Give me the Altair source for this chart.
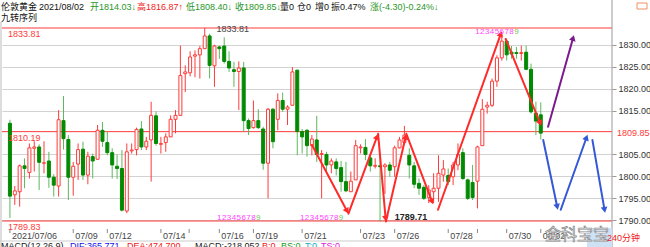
import math
import altair as alt
import pandas as pd

# ---------------- data (240-minute candles, 伦敦黄金) ----------------
opens = [1812.1, 1795.8, 1796.5, 1802.4, 1800.9, 1806.4, 1806.7, 1803.0, 1803.5, 1799.8,
         1797.8, 1812.7, 1808.4, 1799.8, 1802.8, 1806.2, 1800.3, 1804.5, 1803.9, 1810.5,
         1807.7, 1805.4, 1802.3, 1801.8, 1792.1, 1805.8, 1806.1, 1810.8, 1806.7, 1808.3,
         1813.8, 1807.3, 1807.7, 1809.0, 1813.0, 1813.9, 1823.4, 1823.6, 1827.4, 1827.7,
         1829.1, 1832.0, 1825.2, 1829.5, 1829.7, 1826.2, 1824.3, 1823.9, 1824.7, 1812.7,
         1811.1, 1812.7, 1810.8, 1803.0, 1815.3, 1813.0, 1817.3, 1815.3, 1816.2, 1824.2,
         1810.2, 1810.5, 1807.0, 1808.3, 1805.0, 1805.0, 1802.6, 1803.3, 1802.0, 1798.8,
         1796.5, 1799.2, 1806.5, 1806.6, 1804.2, 1802.3, 1802.4, 1802.2, 1802.6, 1802.2,
         1806.5, 1807.7, 1804.8, 1802.4, 1798.4, 1797.5, 1795.2, 1796.5, 1797.3, 1800.3,
         1800.2, 1799.9, 1802.6, 1805.4, 1799.2, 1798.6, 1798.9, 1807.0, 1815.8, 1816.2,
         1821.7, 1827.0, 1830.8, 1828.3, 1828.2, 1828.0, 1828.3, 1824.4, 1814.4, 1814.03]
highs = [1812.9, 1797.8, 1802.7, 1804.1, 1807.5, 1808.0, 1807.3, 1808.0, 1805.6, 1800.5,
         1815.1, 1818.3, 1809.4, 1803.3, 1807.5, 1807.9, 1805.6, 1805.2, 1811.7, 1812.4,
         1810.2, 1806.4, 1805.0, 1806.0, 1807.5, 1807.5, 1811.1, 1812.6, 1809.0, 1817.0,
         1814.8, 1809.0, 1809.8, 1813.9, 1815.1, 1829.8, 1825.3, 1828.5, 1828.7, 1829.7,
         1833.81, 1832.5, 1830.0, 1829.8, 1831.7, 1828.5, 1826.1, 1826.2, 1826.1, 1813.2,
         1817.3, 1815.3, 1811.3, 1815.6, 1815.6, 1818.9, 1819.1, 1816.2, 1824.9, 1824.3,
         1810.8, 1810.8, 1809.4, 1813.8, 1806.0, 1805.6, 1804.1, 1804.1, 1803.5, 1803.3,
         1801.1, 1808.3, 1807.3, 1808.5, 1805.2, 1804.1, 1805.0, 1803.0, 1803.3, 1807.0,
         1809.0, 1811.5, 1806.4, 1803.3, 1799.5, 1798.0, 1798.0, 1800.7, 1804.8, 1803.7,
         1801.8, 1803.3, 1807.5, 1806.4, 1799.5, 1802.6, 1807.0, 1817.6, 1817.0, 1822.3,
         1827.6, 1832.9, 1831.4, 1829.7, 1829.5, 1829.8, 1829.8, 1825.7, 1817.0, 1816.87]
lows = [1790.5, 1793.5, 1793.1, 1797.3, 1799.5, 1801.1, 1796.9, 1800.7, 1797.4, 1795.4,
        1795.4, 1806.1, 1794.6, 1795.6, 1799.2, 1799.2, 1798.2, 1799.5, 1803.9, 1806.7,
        1804.8, 1799.5, 1799.4, 1792.0, 1791.6, 1805.2, 1804.8, 1806.0, 1806.0, 1798.8,
        1807.0, 1805.2, 1805.6, 1809.0, 1809.8, 1813.9, 1819.2, 1822.8, 1822.6, 1822.3,
        1829.1, 1822.3, 1820.4, 1826.8, 1825.7, 1823.8, 1820.4, 1815.1, 1810.2, 1809.4,
        1810.9, 1810.8, 1801.5, 1795.0, 1806.4, 1810.5, 1814.7, 1811.7, 1816.2, 1804.8,
        1805.2, 1804.5, 1804.8, 1803.3, 1795.0, 1800.7, 1800.7, 1800.2, 1796.5, 1796.4,
        1796.5, 1799.2, 1805.2, 1803.7, 1801.1, 1801.8, 1789.71, 1796.0, 1799.9, 1799.9,
        1806.4, 1807.7, 1799.5, 1797.3, 1795.8, 1794.6, 1793.9, 1793.9, 1794.2, 1798.8,
        1798.0, 1798.0, 1801.4, 1799.2, 1794.6, 1794.6, 1792.7, 1807.0, 1814.3, 1815.8,
        1820.4, 1826.4, 1826.4, 1826.8, 1826.8, 1826.4, 1824.2, 1814.3, 1809.4, 1808.40]
closes = [1795.5, 1796.7, 1802.4, 1801.8, 1806.5, 1806.7, 1803.2, 1803.1, 1799.8, 1798.0,
          1812.9, 1808.6, 1799.8, 1802.3, 1806.1, 1800.3, 1804.6, 1803.5, 1810.5, 1808.0,
          1805.4, 1802.6, 1801.8, 1792.3, 1805.6, 1806.0, 1810.7, 1806.7, 1808.0, 1813.9,
          1807.5, 1807.5, 1809.0, 1813.0, 1813.9, 1823.0, 1823.8, 1827.2, 1827.7, 1829.1,
          1832.0, 1825.3, 1829.7, 1829.1, 1826.2, 1824.7, 1823.9, 1824.7, 1812.7, 1810.9,
          1812.7, 1811.1, 1803.0, 1815.3, 1807.9, 1817.3, 1815.3, 1815.8, 1823.8, 1810.2,
          1809.0, 1807.0, 1808.5, 1805.0, 1805.2, 1802.6, 1803.5, 1801.8, 1798.8, 1796.7,
          1798.9, 1807.0, 1806.7, 1805.0, 1802.4, 1802.5, 1802.2, 1802.6, 1801.4, 1806.5,
          1808.3, 1809.4, 1802.6, 1798.2, 1797.3, 1795.0, 1796.9, 1797.3, 1800.7, 1801.7,
          1798.8, 1802.6, 1805.0, 1799.5, 1795.0, 1795.2, 1806.7, 1815.3, 1816.2, 1821.7,
          1827.0, 1830.8, 1827.7, 1827.9, 1828.0, 1828.2, 1824.4, 1814.7, 1812.6, 1809.85]

level_prices = [1833.81, 1810.19, 1789.83]
level_labels = ["1833.81", "1810.19", "1789.83"]

y_ticks = [1790, 1795, 1800, 1805, 1815, 1820, 1825, 1830]
last_price = 1809.85

x_tick_idx = [0, 13, 20, 31, 43, 50, 60, 72, 79, 90, 102, 109]
x_tick_lab = ["2021/07/06", "07/09", "07/12", "07/14", "07/16", "07/19", "07/21",
              "07/23", "07/26", "07/28", "07/30", "08/02"]
x_minor_idx = [36.8, 96.0]

td_starts = [43, 60, 96]
td_prices = [1790.6, 1790.6, 1832.9]

arrow_x1 = [62.0, 69.5, 75.6, 77.2, 81.4, 87.9, 101.8, 110.5, 109.5, 113.1, 119.6]
arrow_y1 = [1807.2, 1791.5, 1809.7, 1789.7, 1809.7, 1792.4, 1831.3, 1811.3, 1808.3, 1792.4, 1808.3]
arrow_x2 = [69.5, 75.6, 77.2, 81.4, 86.9, 101.0, 109.1, 115.8, 112.5, 118.6, 122.2]
arrow_y2 = [1791.5, 1809.7, 1789.7, 1809.7, 1793.6, 1833.1, 1811.5, 1832.2, 1792.4, 1809.5, 1791.7]
arrow_kind = ["r", "r", "r", "r", "r", "r", "r", "p", "b", "b", "b"]

high_note = ("1833.81", 42.4, 1833.6)
low_note = ("1789.71", 79.0, 1790.8)

# ---------------- layout / style ----------------
W, H = 610, 193
PAD = {"left": 2, "top": 28, "right": 38, "bottom": 26}
XMIN, XMAX = -0.6, 122.6
YMIN, YMAX = 1789.83, 1833.81
PXI = W / (XMAX - XMIN)
PYP = H / (YMAX - YMIN)

RED = "#ff3a3a"
GREEN_BODY = "#038a03"
GREEN_WICK = "#5cb85c"
ARROW_COL = {"r": "#ff2a2a", "p": "#7a1a8c", "b": "#3458d6"}
FONT = "Liberation Sans"
MIX = "Liberation Sans, Noto Sans CJK SC"
CJK = "Noto Sans CJK SC"

xs = alt.Scale(domain=[XMIN, XMAX], nice=False, zero=False)
ys = alt.Scale(domain=[YMIN, YMAX], nice=False, zero=False)
yax = alt.Axis(orient="right", values=y_ticks, format=".2f", grid=True,
               gridColor="#d2d2d2", gridWidth=1.2, labelFontSize=9,
               labelColor="#333333", labelFont=FONT, tickSize=4,
               tickColor="#999999", domain=False, labelPadding=2, title=None)


def X(f):
    return alt.X(f, type="quantitative", scale=xs, axis=None)


def Y(f):
    return alt.Y(f, type="quantitative", scale=ys, axis=yax)


cdf = pd.DataFrame({"i": list(range(len(opens))), "open": opens, "high": highs,
                    "low": lows, "close": closes})
up = "datum.close >= datum.open"
down = "datum.close < datum.open"

layers = []

# horizontal levels
ldf = pd.DataFrame({"price": level_prices, "label": level_labels})
layers.append(alt.Chart(ldf).mark_rule(color=RED, strokeWidth=1).encode(
    y=Y("price"), x=alt.value(0), x2=alt.value(W)))

# wicks and bodies
layers.append(alt.Chart(cdf).transform_filter(up).mark_rule(color=RED, strokeWidth=1).encode(
    x=X("i"), y=Y("low"), y2="high"))
layers.append(alt.Chart(cdf).transform_filter(down).mark_rule(color=GREEN_WICK, strokeWidth=1).encode(
    x=X("i"), y=Y("low"), y2="high"))
layers.append(alt.Chart(cdf).transform_filter(up).mark_bar(
    size=3, fill="white", stroke=RED, strokeWidth=1).encode(x=X("i"), y=Y("open"), y2="close"))
layers.append(alt.Chart(cdf).transform_filter(down).mark_bar(
    size=3, fill=GREEN_BODY, stroke=GREEN_BODY, strokeWidth=1).encode(x=X("i"), y=Y("open"), y2="close"))

# level labels on the left
layers.append(alt.Chart(ldf).mark_text(align="left", baseline="middle", dy=6, fontSize=9,
                                       font=FONT, color=RED).encode(
    y=Y("price"), x=alt.value(6), text="label:N"))

# arrows
rows = []
heads = []
for x1, y1, x2, y2, k in zip(arrow_x1, arrow_y1, arrow_x2, arrow_y2, arrow_kind):
    c = ARROW_COL[k]
    dxp = (x2 - x1) * PXI
    dyp = (y2 - y1) * PYP
    L = math.hypot(dxp, dyp)
    ang = math.degrees(math.atan2(dxp, dyp)) % 360
    hx = x2 - (dxp / L * 3.0) / PXI
    hy = y2 - (dyp / L * 3.0) / PYP
    rows.append({"x1": x1, "y1": y1, "x2": hx, "y2": hy, "c": c})
    heads.append({"x": hx, "y": hy, "ang": ang, "c": c})
adf = pd.DataFrame(rows)
hdf = pd.DataFrame(heads)
layers.append(alt.Chart(adf).mark_rule(strokeWidth=2, strokeCap="round").encode(
    x=X("x1"), y=Y("y1"), x2="x2", y2="y2", color=alt.Color("c:N", scale=None)))
layers.append(alt.Chart(hdf).mark_point(shape="triangle-up", filled=True, size=45, opacity=1).encode(
    x=X("x"), y=Y("y"), angle=alt.Angle("ang:Q", scale=None), color=alt.Color("c:N", scale=None)))

# TD sequence digits
td = []
for s, p in zip(td_starts, td_prices):
    for k in range(9):
        td.append({"i": s + k, "p": p, "t": str(k + 1),
                   "c": "#66cc55" if k == 8 else "#ff44ff"})
tdf = pd.DataFrame(td)
layers.append(alt.Chart(tdf).mark_text(fontSize=8, font=FONT, baseline="middle").encode(
    x=X("i"), y=Y("p"), text="t:N", color=alt.Color("c:N", scale=None)))

# high / low notes
ndf = pd.DataFrame({"t": [high_note[0]], "i": [high_note[1]], "p": [high_note[2]]})
layers.append(alt.Chart(ndf).mark_text(align="left", baseline="middle", fontSize=9, font=FONT,
                                       color="#444444").encode(x=X("i"), y=Y("p"), text="t:N"))
ndf2 = pd.DataFrame({"t": [low_note[0]], "i": [low_note[1]], "p": [low_note[2]]})
layers.append(alt.Chart(ndf2).mark_text(align="left", baseline="middle", fontSize=9, font=FONT,
                                        fontWeight="bold", color="#222222").encode(
    x=X("i"), y=Y("p"), text="t:N"))

# x axis ticks and labels (drawn as marks)
xdf = pd.DataFrame({"i": x_tick_idx, "label": x_tick_lab})
mdf = pd.DataFrame({"i": x_tick_idx + x_minor_idx})
layers.append(alt.Chart(mdf).mark_rule(color="#888888", strokeWidth=1).encode(
    x=X("i"), y=alt.value(H + 8), y2=alt.value(H + 12)))
layers.append(alt.Chart(xdf).mark_text(align="left", baseline="middle", dx=2, fontSize=9,
                                       font=FONT, color="#444444").encode(
    x=X("i"), y=alt.value(H + 15), text="label:N"))

# last price on right axis
pdf = pd.DataFrame({"p": [last_price], "t": [f"{last_price:.2f}"]})
layers.append(alt.Chart(pdf).mark_text(align="left", baseline="middle", fontSize=9, font=FONT,
                                       color=RED).encode(y=Y("p"), x=alt.value(W + 5), text="t:N"))


def txt(s, x, y, color="#111111", size=9, font=MIX, **kw):
    return alt.Chart(pd.DataFrame({"t": [s]})).mark_text(
        align="left", baseline="middle", fontSize=size, font=font, color=color, **kw
    ).encode(x=alt.value(x), y=alt.value(y), text="t:N")


def hline(x1, x2, y, color):
    return alt.Chart(pd.DataFrame({"a": [0]})).mark_rule(color=color, strokeWidth=1).encode(
        x=alt.value(x1), x2=alt.value(x2), y=alt.value(y))


def vline(x, y1, y2, color):
    return alt.Chart(pd.DataFrame({"a": [0]})).mark_rule(color=color, strokeWidth=1).encode(
        x=alt.value(x), y=alt.value(y1), y2=alt.value(y2))


# frame lines
layers.append(vline(W, -PAD["top"], H + PAD["bottom"], "#999999"))
layers.append(vline(-1, -6, H + PAD["bottom"], "#bbbbbb"))
layers.append(hline(-2, W, H + 20, "#cccccc"))

# header
G = "#2a962a"
R = "#ee2222"
K = "#111111"
header = [("伦敦黄金", -1, K), ("2021/08/02", 37, K), ("开1814.03↓", 88, G),
          ("高1816.87↑", 135, R), ("低1808.40↓", 184, G), ("收1809.85↓", 233, G),
          ("量0", 278, K), ("仓0", 295, K), ("增0", 313, K), ("振0.47%", 329, K),
          ("涨(-4.30)-0.24%↓", 368, G)]
for s, x, c in header:
    layers.append(txt(s, x, -21, c))
layers.append(txt("九转序列", -1, -10, K))

# icon top right
layers.append(alt.Chart(pd.DataFrame({"a": [0]})).mark_rect(
    fill="white", stroke="#f09060", strokeWidth=1).encode(
    x=alt.value(635), x2=alt.value(645), y=alt.value(-25), y2=alt.value(-19)))

# bottom indicator row (partly cut)
macd = [("MACD(12,26,9)", -1, "#222222"), ("DIF:365.771", 68, "#1010ee"),
        ("DEA:474.700", 125, "#ee2020"), ("MACD:-218.052", 193, "#222222"),
        ("B:0", 260, "#ee2020"), ("BS:0", 279, "#20a020"), ("T:0", 303, "#10b0c0"),
        ("TS:0", 319, "#e020e0")]
for s, x, c in macd:
    layers.append(alt.Chart(pd.DataFrame({"t": [s]})).mark_text(
        align="left", baseline="top", fontSize=9, font=FONT, color=c).encode(
        x=alt.value(x), y=alt.value(H + 21), text="t:N"))

# period box + watermark
layers.append(alt.Chart(pd.DataFrame({"a": [0]})).mark_rect(fill="#cfe2f5").encode(
    x=alt.value(585), x2=alt.value(W), y=alt.value(H + 7), y2=alt.value(H + 26)))
layers.append(txt("金科宝宝", 543, H + 14, "white", size=16, font=CJK,
                  stroke="#8a8a8a", strokeWidth=0.7))
layers.append(txt("240分钟", 605, H + 17, R, size=9))

chart = alt.layer(*layers).properties(
    width=W, height=H, padding=PAD,
    autosize=alt.AutoSizeParams(type="none"),
    background="white",
).configure_view(strokeWidth=0)

chart.save("out.html", embed_options={"renderer": "svg", "actions": False})
